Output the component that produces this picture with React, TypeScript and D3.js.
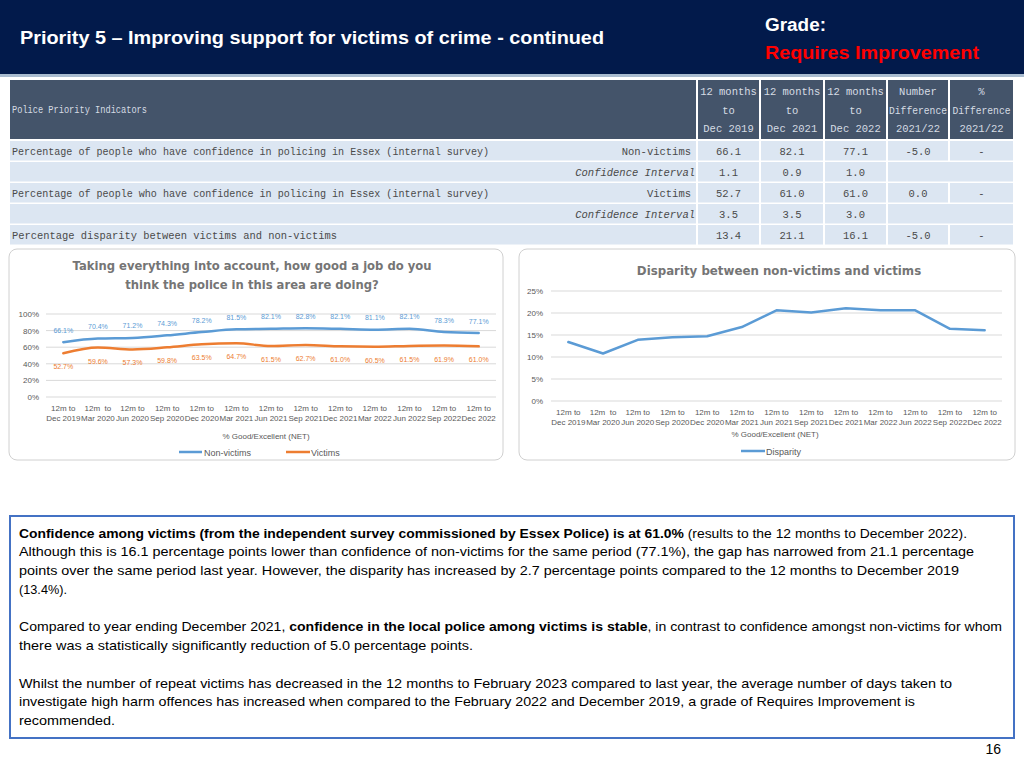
import React from 'react';
import * as d3 from 'd3';

// ---------- DATA ----------
const categories = ['Dec 2019', 'Mar 2020', 'Jun 2020', 'Sep 2020', 'Dec 2020', 'Mar 2021', 'Jun 2021', 'Sep 2021', 'Dec 2021', 'Mar 2022', 'Jun 2022', 'Sep 2022', 'Dec 2022'];
const categoryPrefixes = ['12m to', '12m  to', '12m to', '12m to', '12m to', '12m to', '12m to', '12m to', '12m to', '12m to', '12m to', '12m to', '12m to'];
const nonVictims = [66.1, 70.4, 71.2, 74.3, 78.2, 81.5, 82.1, 82.8, 82.1, 81.1, 82.1, 78.3, 77.1];
const victims = [52.7, 59.6, 57.3, 59.8, 63.5, 64.7, 61.5, 62.7, 61.0, 60.5, 61.5, 61.9, 61.0];
const disparity = [13.4, 10.8, 13.9, 14.5, 14.7, 16.8, 20.6, 20.1, 21.1, 20.6, 20.6, 16.4, 16.1];
const leftTicks = [0, 20, 40, 60, 80, 100];
const rightTicks = [0, 5, 10, 15, 20, 25];

const tableHeaders = [
  ['12 months', 'to', 'Dec 2019'],
  ['12 months', 'to', 'Dec 2021'],
  ['12 months', 'to', 'Dec 2022'],
  ['Number', 'Difference', '2021/22'],
  ['%', 'Difference', '2021/22'],
];
const rowLabels = [
  'Percentage of people who have confidence in policing in Essex (internal survey)',
  '',
  'Percentage of people who have confidence in policing in Essex (internal survey)',
  '',
  'Percentage disparity between victims and non-victims',
];
const rowSubLabels = ['Non-victims', 'Confidence Interval', 'Victims', 'Confidence Interval', ''];
const rowValues = [
  ['66.1', '82.1', '77.1', '-5.0', '-'],
  ['1.1', '0.9', '1.0'],
  ['52.7', '61.0', '61.0', '0.0', '-'],
  ['3.5', '3.5', '3.0'],
  ['13.4', '21.1', '16.1', '-5.0', '-'],
];

// ---------- STYLE ----------
const BLUE = '#5B9BD5';
const ORANGE = '#ED7D31';
const GREY = '#595959';
const TITLE_GREY = '#757575';
const NAVY = '#021A4B';
const TH = '#44546A';
const TD = '#DCE6F2';
const TXT = '#4A4A4A';
const MONO = '"Liberation Mono", "DejaVu Sans Mono", monospace';
const SANS = '"Liberation Sans", Arial, sans-serif';
const CHART_TITLE = '"DejaVu Sans", Verdana, sans-serif';

const colLeft = [10, 698, 761, 825, 888, 950];
const colRight = [696, 759, 823, 886, 948, 1013];

function Table() {
  const rowTop = (i: number) => 141 + i * 21;
  const rowH = 19.5;
  const els: React.ReactNode[] = [];
  colLeft.forEach((x, c) => {
    els.push(<rect key={'h' + c} x={x} y={80} width={colRight[c] - x} height={59} fill={TH} />);
  });
  els.push(
    <text key="hl" x={12} y={113} fontFamily={MONO} fontSize={10} fill="#D6DCE4" textLength={135} lengthAdjust="spacingAndGlyphs">
      Police Priority Indicators
    </text>
  );
  tableHeaders.forEach((lines, c) => {
    const cx = (colLeft[c + 1] + colRight[c + 1]) / 2;
    lines.forEach((t, j) => {
      const natural = t.length * 6.3;
      const fit = natural > 58 ? { textLength: 58, lengthAdjust: 'spacingAndGlyphs' } : {};
      els.push(
        <text key={'ht' + c + j} x={cx} y={95 + j * 18.5} textAnchor="middle" fontFamily={MONO} fontSize={10.5} fill="#D6DCE4" {...fit}>
          {t}
        </text>
      );
    });
  });
  rowValues.forEach((vals, i) => {
    const y = rowTop(i);
    els.push(<rect key={'r0' + i} x={colLeft[0]} y={y} width={colRight[0] - colLeft[0]} height={rowH} fill={TD} />);
    const ci = vals.length === 3;
    for (let c = 1; c <= 5; c++) {
      if (ci && c === 5) continue;
      const right = ci && c === 4 ? colRight[5] : colRight[c];
      els.push(<rect key={'r' + i + c} x={colLeft[c]} y={y} width={right - colLeft[c]} height={rowH} fill={TD} />);
    }
    if (rowLabels[i]) {
      els.push(
        <text key={'l' + i} x={12} y={y + 13.5} fontFamily={MONO} fontSize={10} fill={TXT}
          textLength={rowLabels[i].length > 60 ? 477 : 325} lengthAdjust="spacingAndGlyphs">
          {rowLabels[i]}
        </text>
      );
    }
    if (rowSubLabels[i]) {
      const italic = rowSubLabels[i].startsWith('Confidence');
      els.push(
        <text key={'s' + i} x={italic ? 695 : 691} y={y + 13.5} textAnchor="end" fontFamily={MONO} fontSize={10.5}
          fontStyle={italic ? 'italic' : 'normal'} fill={TXT}>
          {rowSubLabels[i]}
        </text>
      );
    }
    vals.forEach((v, c) => {
      const cx = (colLeft[c + 1] + colRight[c + 1]) / 2;
      els.push(
        <text key={'v' + i + c} x={cx} y={y + 13.5} textAnchor="middle" fontFamily={MONO} fontSize={10.5} fill={TXT}>
          {v}
        </text>
      );
    });
  });
  return <g>{els}</g>;
}

function XLabels({ x, y1, y2 }: { x: d3.ScalePoint<string>; y1: number; y2: number }) {
  return (
    <g fontFamily={SANS} fontSize={8} fill={GREY} textAnchor="middle">
      {categories.map((c, i) => (
        <g key={c}>
          <text x={x(c)} y={y1} style={{ whiteSpace: 'pre' }}>{categoryPrefixes[i]}</text>
          <text x={x(c)} y={y2}>{c}</text>
        </g>
      ))}
    </g>
  );
}

function LeftChart() {
  const x = d3.scalePoint<string>().domain(categories).range([46, 496]).padding(0.5);
  const y = d3.scaleLinear().domain([0, 100]).range([397, 314]);
  const line = d3.line<number>().x((_, i) => x(categories[i]) as number).y((d) => y(d)).curve(d3.curveMonotoneX);
  return (
    <g>
      <rect x={9} y={249} width={494} height={211} rx={8} fill="#fff" stroke="#D0D0D0" strokeWidth={1} />
      <g fontFamily={CHART_TITLE} fontWeight="bold" fontSize={11.6} fill={TITLE_GREY} textAnchor="middle">
        <text x={252} y={270}>Taking everything into account, how good a job do you</text>
        <text x={252} y={289}>think the police in this area are doing?</text>
      </g>
      {leftTicks.map((t) => (
        <g key={t}>
          <line x1={46} x2={496} y1={y(t)} y2={y(t)} stroke="#D9D9D9" strokeWidth={1} />
          <text x={39} y={y(t) + 3} textAnchor="end" fontFamily={SANS} fontSize={8} fill={GREY}>{t}%</text>
        </g>
      ))}
      <path d={line(nonVictims) || ''} fill="none" stroke={BLUE} strokeWidth={2.5} strokeLinecap="round" />
      <path d={line(victims) || ''} fill="none" stroke={ORANGE} strokeWidth={2.5} strokeLinecap="round" />
      <g fontFamily={SANS} fontSize={7} textAnchor="middle">
        {nonVictims.map((v, i) => (
          <text key={'n' + i} x={x(categories[i])} y={y(v) - 9.5} fill={BLUE}>{v.toFixed(1)}%</text>
        ))}
        {victims.map((v, i) => (
          <text key={'v' + i} x={x(categories[i])} y={y(v) + 16} fill={ORANGE}>{v.toFixed(1)}%</text>
        ))}
      </g>
      <XLabels x={x} y1={411} y2={421} />
      <text x={266} y={439} textAnchor="middle" fontFamily={SANS} fontSize={8} fill={GREY}>% Good/Excellent (NET)</text>
      <line x1={179} x2={202} y1={452} y2={452} stroke={BLUE} strokeWidth={2.5} />
      <text x={204} y={455.5} fontFamily={SANS} fontSize={9} fill={GREY}>Non-victims</text>
      <line x1={286} x2={310} y1={452} y2={452} stroke={ORANGE} strokeWidth={2.5} />
      <text x={311} y={455.5} fontFamily={SANS} fontSize={9} fill={GREY}>Victims</text>
    </g>
  );
}

function RightChart() {
  const x = d3.scalePoint<string>().domain(categories).range([551, 1002]).padding(0.5);
  const y = d3.scaleLinear().domain([0, 25]).range([401, 291]);
  const line = d3.line<number>().x((_, i) => x(categories[i]) as number).y((d) => y(d));
  return (
    <g>
      <rect x={519} y={249} width={496} height={211} rx={8} fill="#fff" stroke="#D0D0D0" strokeWidth={1} />
      <text x={779} y={275} textAnchor="middle" fontFamily={CHART_TITLE} fontWeight="bold" fontSize={11.8} fill={TITLE_GREY}>
        Disparity between non-victims and victims
      </text>
      {rightTicks.map((t) => (
        <g key={t}>
          <line x1={551} x2={1002} y1={y(t)} y2={y(t)} stroke="#D9D9D9" strokeWidth={1} />
          <text x={543} y={y(t) + 3} textAnchor="end" fontFamily={SANS} fontSize={8} fill={GREY}>{t}%</text>
        </g>
      ))}
      <path d={line(disparity) || ''} fill="none" stroke={BLUE} strokeWidth={2.5} strokeLinejoin="round" strokeLinecap="round" />
      <XLabels x={x} y1={415} y2={425} />
      <text x={775} y={437} textAnchor="middle" fontFamily={SANS} fontSize={8} fill={GREY}>% Good/Excellent (NET)</text>
      <line x1={741} x2={765} y1={451} y2={451} stroke={BLUE} strokeWidth={2.5} />
      <text x={766} y={454.5} fontFamily={SANS} fontSize={9} fill={GREY}>Disparity</text>
    </g>
  );
}

const bodyLines: { parts: [string, boolean][]; y: number; w: number }[] = [
  { parts: [['Confidence among victims (from the independent survey commissioned by Essex Police) is at 61.0%', true], [' (results to the 12 months to December 2022).', false]], y: 538, w: 948 },
  { parts: [['Although this is 16.1 percentage points lower than confidence of non-victims for the same period (77.1%), the gap has narrowed from 21.1 percentage', false]], y: 556, w: 955 },
  { parts: [['points over the same period last year. However, the disparity has increased by 2.7 percentage points compared to the 12 months to December 2019', false]], y: 575, w: 940 },
  { parts: [['(13.4%).', false]], y: 594, w: 48 },
  { parts: [['Compared to year ending December 2021, ', false], ['confidence in the local police among victims is stable', true], [', in contrast to confidence amongst non-victims for whom', false]], y: 631, w: 983 },
  { parts: [['there was a statistically significantly reduction of 5.0 percentage points.', false]], y: 650, w: 454 },
  { parts: [['Whilst the number of repeat victims has decreased in the 12 months to February 2023 compared to last year, the average number of days taken to', false]], y: 688, w: 933 },
  { parts: [['investigate high harm offences has increased when compared to the February 2022 and December 2019, a grade of Requires Improvement is', false]], y: 706, w: 896 },
  { parts: [['recommended.', false]], y: 725, w: 96 },
];

function TextBox() {
  return (
    <g>
      <rect x={10} y={516} width={1004} height={222} fill="#fff" stroke="#4472C4" strokeWidth={2} />
      {bodyLines.map((l, i) => (
        <text key={i} x={19} y={l.y} fontFamily={SANS} fontSize={13} fill="#000" textLength={l.w} lengthAdjust="spacingAndGlyphs" style={{ whiteSpace: 'pre' }}>
          {l.parts.map(([t, b], j) => (
            <tspan key={j} fontWeight={b ? 'bold' : 'normal'}>{t}</tspan>
          ))}
        </text>
      ))}
    </g>
  );
}

export default function App() {
  return (
    <svg width={1024} height={768} style={{ position: 'absolute', left: 0, top: 0, background: '#fff' }}>
      <rect x={0} y={0} width={1024} height={768} fill="#fff" />
      <rect x={0} y={0} width={1024} height={74} fill={NAVY} />
      <rect x={0} y={74} width={1024} height={3} fill="#A9BCD0" />
      <text x={20} y={44} fontFamily={SANS} fontWeight="bold" fontSize={18} fill="#fff" textLength={584} lengthAdjust="spacingAndGlyphs">
        Priority 5 – Improving support for victims of crime - continued
      </text>
      <text x={765} y={31} fontFamily={SANS} fontWeight="bold" fontSize={18} fill="#fff" textLength={61} lengthAdjust="spacingAndGlyphs">Grade:</text>
      <text x={765} y={59} fontFamily={SANS} fontWeight="bold" fontSize={18} fill="#FF0000" textLength={214} lengthAdjust="spacingAndGlyphs">Requires Improvement</text>
      <Table />
      <LeftChart />
      <RightChart />
      <TextBox />
      <text x={1001} y={754} textAnchor="end" fontFamily={SANS} fontSize={14} fill="#000">16</text>
    </svg>
  );
}
